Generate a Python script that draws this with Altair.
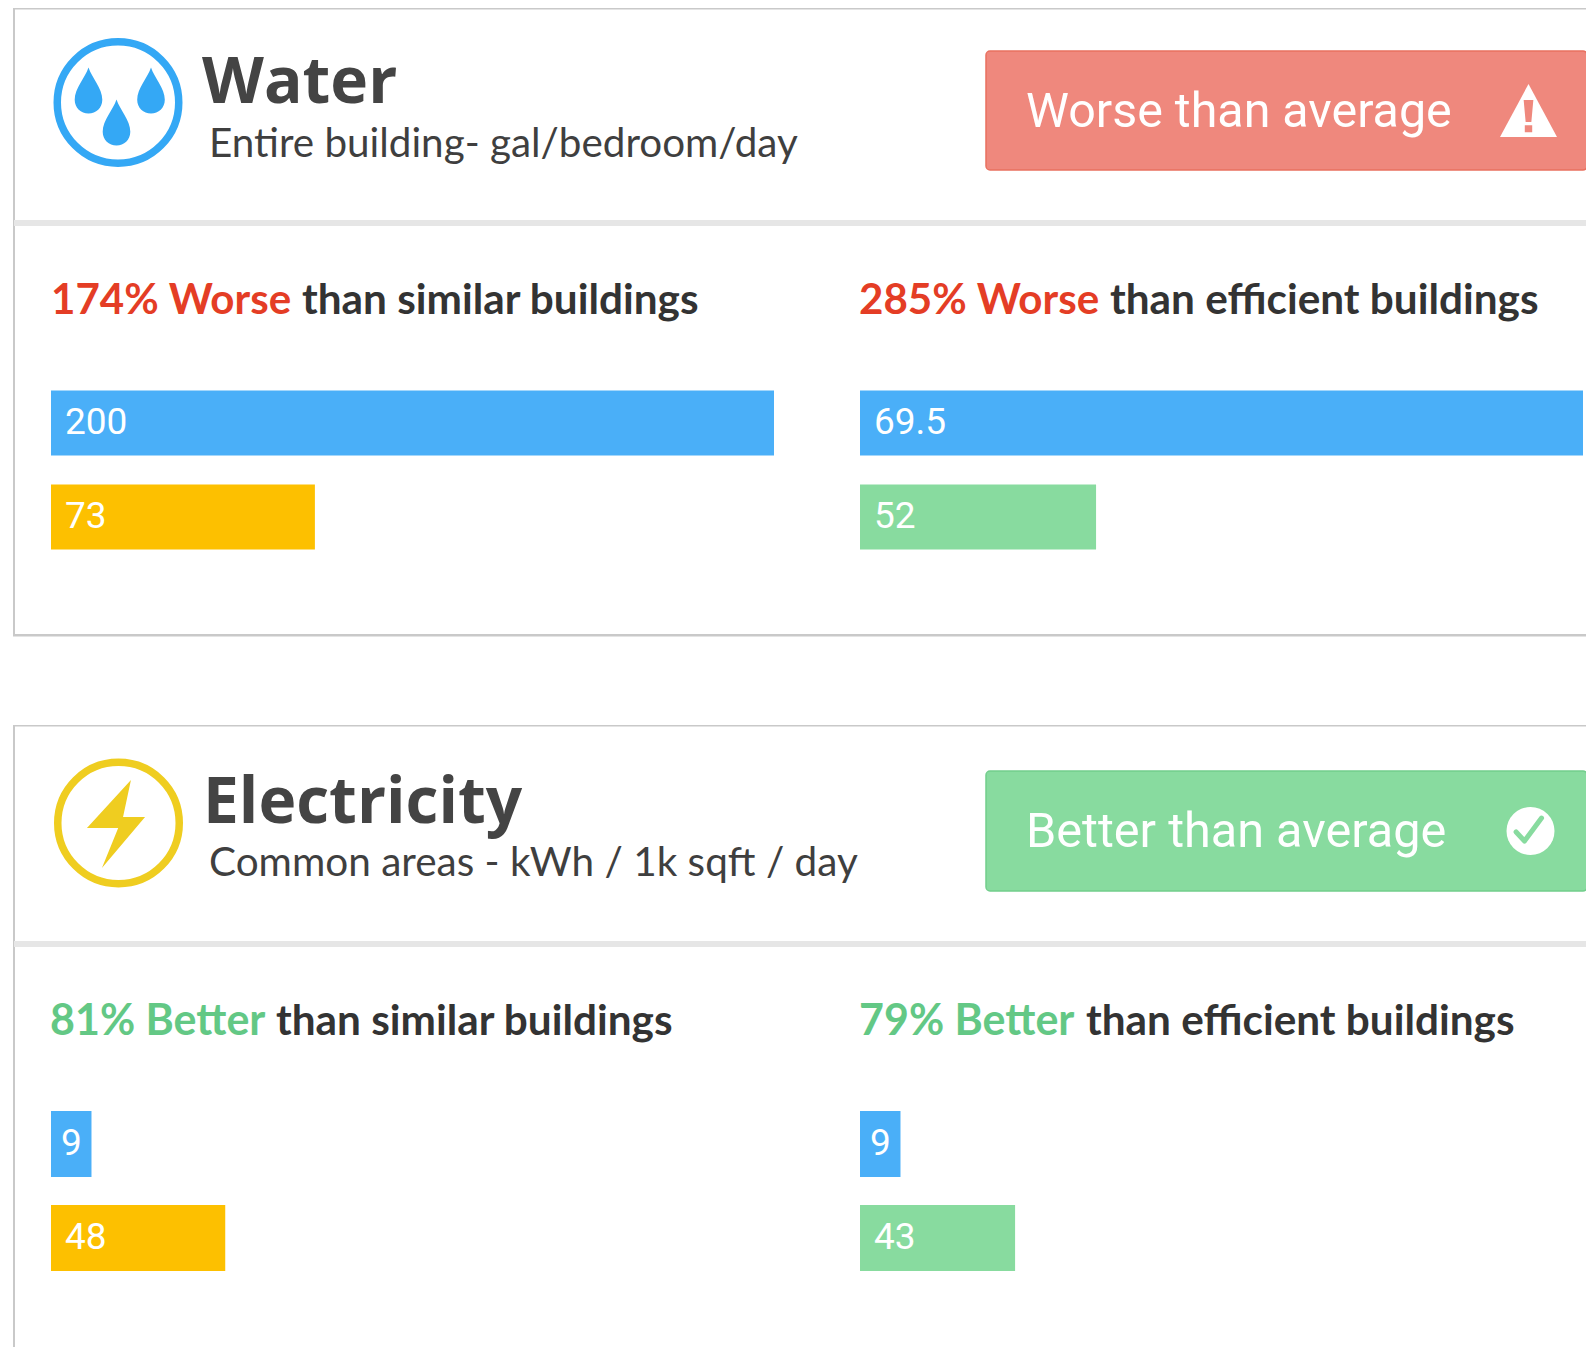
import altair as alt
import pandas as pd

# ---- data ----
panel_ids = ["water_similar", "water_efficient", "elec_similar", "elec_efficient"]
series_names = ["this building", "comparison"]
water_similar_labels = ["200", "73"]
water_efficient_labels = ["69.5", "52"]
elec_similar_labels = ["9", "48"]
elec_efficient_labels = ["9", "43"]
# drawn bar lengths, on the 0-200 track every panel shares
water_similar_lengths = [200, 73]
water_efficient_lengths = [200, 65.3]
elec_similar_lengths = [11.2, 48.2]
elec_efficient_lengths = [11.2, 42.9]
water_similar_kinds = ["building", "similar"]
water_efficient_kinds = ["building", "efficient"]

OFF = 8  # page margin
BLUE, YELLOW, GREEN = "#4AAFF8", "#FDC000", "#88DB9F"
RED_BTN, RED_BORDER = "#EF887D", "#E9705F"
GREEN_BORDER = "#72CE8C"
RED_T, GREEN_T, DARK = "#E43D25", "#63C885", "#333333"


def X(v):
    return alt.value(v - OFF)


one = pd.DataFrame({"k": [0]})
layers = []


def rect(x, x2, y, y2, fill, stroke=None, sw=0, radius=0):
    kw = {"fill": fill, "cornerRadius": radius}
    if stroke:
        kw.update(stroke=stroke, strokeWidth=sw)
    layers.append(alt.Chart(one).mark_rect(**kw).encode(x=X(x), x2=X(x2), y=X(y), y2=X(y2)))


def text(s, x, y, size, color, font="Roboto", weight="normal", align="left"):
    layers.append(
        alt.Chart(pd.DataFrame({"t": [s]}))
        .mark_text(font=font, fontSize=size, fontWeight=weight, color=color, align=align, baseline="alphabetic")
        .encode(x=X(x), y=X(y), text="t:N")
    )


def symbol(shape, x, y, box, fill=None, stroke=None, sw=0):
    kw = {"shape": shape, "size": box * box, "opacity": 1}
    if fill:
        kw.update(filled=True, fill=fill, strokeWidth=0)
    else:
        kw.update(filled=False, stroke=stroke, strokeWidth=sw, strokeJoin="round", strokeCap="round")
    layers.append(alt.Chart(one).mark_point(**kw).encode(x=X(x), y=X(y)))


DROP = "M0,-1 C.15,-.55 .6,-.1 .6,.4 C.6,.75 .33,1 0,1 C-.33,1 -.6,.75 -.6,.4 C-.6,-.1 -.15,-.55 0,-1Z"
BOLT = "M.34,-1 L-.66,.09 L.05,.09 L-.32,1 L.66,-.16 L.16,-.16 Z"
TRI = "M0,-.93 L1,.93 L-1,.93 Z"
BANG = "M-.17,-.37 L.17,-.37 L.1,.4 L-.1,.4 Z M-.13,.52 L.13,.52 L.13,.76 L-.13,.76 Z"
TICK = "M-.6,.04 L-.25,.42 L.46,-.54"

BORDER, BAND = "#C9C9C9", "#E6E6E6"
# panel frames
rect(14, 1620, 8, 9.5, BORDER)
rect(13, 15, 8, 636, BORDER)
rect(13, 1620, 634, 636.5, BORDER)
rect(14, 1620, 220, 226, BAND)
rect(14, 1620, 725, 726.5, BORDER)
rect(13, 15, 725, 1360, BORDER)
rect(14, 1620, 941, 947, BAND)

# water header
symbol("circle", 118, 102.5, 121.5, stroke="#34A8F5", sw=7.5)
for cx, cy in [(88.5, 90.5), (151, 90.5), (116.5, 122.5)]:
    symbol(DROP, cx, cy, 46, fill="#34A8F5")
text("Water", 202, 103, 64, "#444444", font="Open Sans", weight="bold")
text("Entire building- gal/bedroom/day", 209, 156.5, 40.4, "#3F3F3F", font="Lato")

rect(986, 1587, 51, 170, RED_BTN, RED_BORDER, 1.5, 4)
text("Worse than average", 1026, 127, 48.4, "#FFFFFF")
symbol(TRI, 1528.5, 110.5, 57, fill="#FFFFFF")
symbol(BANG, 1528.5, 110.5, 57, fill=RED_BTN)

text("174% Worse", 51, 314, 42.1, RED_T, font="Lato", weight="bold")
text("than similar buildings", 302, 314, 42.3, DARK, font="Lato", weight="bold")
text("285% Worse", 859, 314, 42.1, RED_T, font="Lato", weight="bold")
text("than efficient buildings", 1110, 314, 42.3, DARK, font="Lato", weight="bold")

# electricity header
symbol("circle", 118.5, 823, 121.5, stroke="#EFCD20", sw=7.5)
symbol(BOLT, 116, 824, 88, fill="#EFCD20")
text("Electricity", 203, 823, 64, "#444444", font="Open Sans", weight="bold")
text("Common areas - kWh / 1k sqft / day", 209, 876, 40.5, "#3F3F3F", font="Lato")

rect(986, 1587, 771, 891, GREEN, GREEN_BORDER, 1.5, 4)
text("Better than average", 1026, 847, 48.6, "#FFFFFF")
symbol("circle", 1530.5, 831, 48, fill="#FFFFFF")
symbol(TICK, 1530.5, 831, 48, stroke=GREEN, sw=5)

text("81% Better", 50, 1034.5, 43, GREEN_T, font="Lato", weight="bold")
text("than similar buildings", 276, 1034.5, 42.3, DARK, font="Lato", weight="bold")
text("79% Better", 859, 1034.5, 43, GREEN_T, font="Lato", weight="bold")
text("than efficient buildings", 1086, 1034.5, 42.3, DARK, font="Lato", weight="bold")

color_scale = alt.Scale(domain=["building", "similar", "efficient"], range=[BLUE, YELLOW, GREEN])


def bars(labels, lengths, kinds, x0, x1, y0, y1, size):
    df = pd.DataFrame({"row": series_names, "label": labels, "length": lengths, "kind": kinds})
    xs = alt.Scale(domain=[0, 200], range=[x0 - OFF, x1 - OFF], nice=False, zero=False)
    ys = alt.Scale(type="point", domain=series_names, range=[y0 - OFF, y1 - OFF], padding=0)
    yenc = alt.Y("row:N", scale=ys, axis=None)
    layers.append(
        alt.Chart(df)
        .mark_bar(size=size)
        .encode(
            x=alt.X("length:Q", scale=xs, axis=None),
            x2=alt.datum(0),
            y=yenc,
            color=alt.Color("kind:N", scale=color_scale, legend=None),
        )
    )
    for i, lab in enumerate(labels):
        # a single-digit label sits closer to the bar's start, as in the picture
        dx = 10 if len(lab) == 1 else 14
        layers.append(
            alt.Chart(df.iloc[[i]])
            .mark_text(font="Roboto", fontSize=37, color="#FFFFFF", align="left", baseline="middle", dx=dx, dy=-0.5)
            .encode(x=alt.datum(0, scale=xs, axis=None), y=yenc, text="label:N")
        )


bars(water_similar_labels, water_similar_lengths, water_similar_kinds, 51, 774, 423, 517, 65)
bars(water_efficient_labels, water_efficient_lengths, water_efficient_kinds, 860, 1583, 423, 517, 65)
bars(elec_similar_labels, elec_similar_lengths, water_similar_kinds, 51, 774, 1144, 1238, 66)
bars(elec_efficient_labels, elec_efficient_lengths, water_efficient_kinds, 860, 1583, 1144, 1238, 66)

chart = (
    alt.layer(*layers)
    .resolve_scale(x="independent", y="independent")
    .properties(width=1578, height=1339, background="#FFFFFF", padding=0, autosize=alt.AutoSizeParams(type="none"))
    .configure_view(stroke=None)
)
chart.save("out.html", embed_options={"renderer": "svg", "actions": False})
